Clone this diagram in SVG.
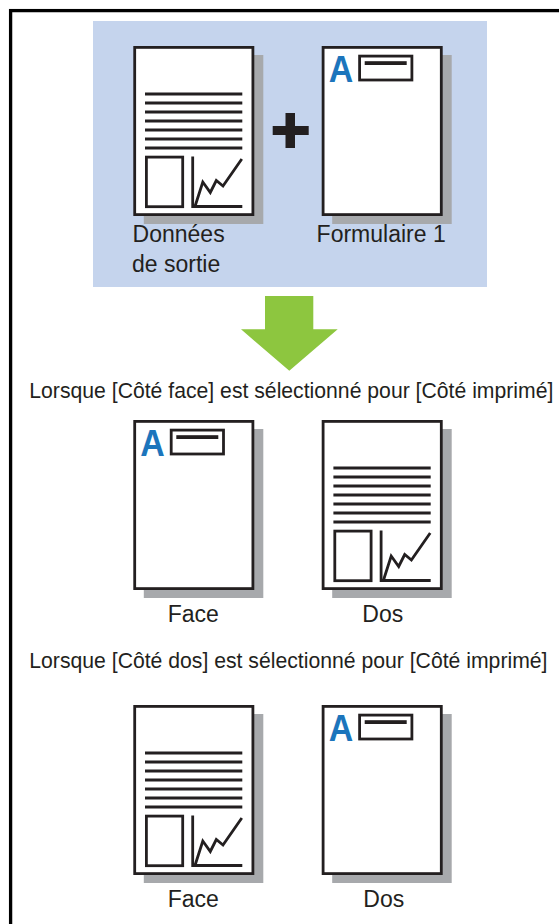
<svg xmlns="http://www.w3.org/2000/svg" xmlns:xlink="http://www.w3.org/1999/xlink" width="559" height="924" viewBox="0 0 559 924">
<style>
.lbl{font-family:"Liberation Sans",Arial,sans-serif;font-size:23px;fill:#231f20}
.ttl{font-family:"Liberation Sans",Arial,sans-serif;font-size:21.2px;fill:#231f20}
.pg{fill:#fff;stroke:#231f20;stroke-width:2.8}
.sh{fill:#a7a9ac}
.ln{stroke:#231f20;stroke-width:2.8;fill:none}
.bx{fill:none;stroke:#231f20;stroke-width:2.8}
.big{font-family:"Liberation Sans",Arial,sans-serif;font-weight:bold;font-size:37px;fill:#1c75bc}
</style>
<defs>
<g id="sheet">
<rect class="sh" x="10.5" y="9" width="119.5" height="169"/>
<rect class="pg" x="1.4" y="1.4" width="118.2" height="167.2"/>
</g>
<g id="dataDoc">
<use xlink:href="#sheet"/>
<path class="ln" d="M11.7,48H109M11.7,57H109M11.7,66H109M11.7,75H109M11.7,84H109M11.7,93H109M11.7,102H109"/>
<rect class="bx" x="13.1" y="111.1" width="36.3" height="49.6"/>
<polyline class="ln" points="59.4,110.6 59.4,160.5 109,160.5"/>
<polyline class="ln" points="62,159.5 69.5,136 77,146.5 83,134.5 89.7,140 108.5,113"/>
</g>
<g id="formDoc">
<use xlink:href="#sheet"/>
<text class="big" x="7" y="35.8" textLength="24.5" lengthAdjust="spacingAndGlyphs">A</text>
<rect class="bx" x="37.9" y="10.1" width="52.3" height="23.9"/>
<rect x="43" y="15.2" width="42" height="3.8" fill="#231f20"/>
</g>
</defs>
<rect x="0" y="0" width="559" height="924" fill="#fff"/>
<rect x="10.6" y="10.6" width="560" height="930" fill="none" stroke="#000" stroke-width="3.3"/>
<g id="panel">
<rect x="93" y="21" width="394" height="266" fill="#c5d4ed"/>
</g>
<g id="doc-donnees">
<use xlink:href="#dataDoc" x="133.3" y="46"/>
<text class="lbl" x="132.6" y="242.3">Données</text>
<text class="lbl" x="132" y="271.7">de sortie</text>
</g>
<g id="plus">
<rect x="272.7" y="126" width="36" height="9" fill="#231f20"/>
<rect x="285.5" y="113" width="9.5" height="35" fill="#231f20"/>
</g>
<g id="doc-formulaire">
<use xlink:href="#formDoc" x="321.7" y="46"/>
<text class="lbl" x="316.6" y="242.3">Formulaire 1</text>
</g>
<g id="connectors">
<path d="M265,296H313.3V329.3H337.7L289.3,370.7L241,329.3H265Z" fill="#8dc63f"/>
</g>
<g id="title-face">
<text class="ttl" x="29.3" y="398.3">Lorsque [Côté face] est sélectionné pour [Côté imprimé]</text>
</g>
<g id="face1">
<use xlink:href="#formDoc" x="133.3" y="420"/>
<text class="lbl" x="167.7" y="622.3">Face</text>
</g>
<g id="dos1">
<use xlink:href="#dataDoc" x="321.7" y="420"/>
<text class="lbl" x="362.3" y="622.3">Dos</text>
</g>
<g id="title-dos">
<text class="ttl" x="29.3" y="668.3">Lorsque [Côté dos] est sélectionné pour [Côté imprimé]</text>
</g>
<g id="face2">
<use xlink:href="#dataDoc" x="133.3" y="705"/>
<text class="lbl" x="167.7" y="906.7">Face</text>
</g>
<g id="dos2">
<use xlink:href="#formDoc" x="321.7" y="705"/>
<text class="lbl" x="363.3" y="906.7">Dos</text>
</g>
</svg>
